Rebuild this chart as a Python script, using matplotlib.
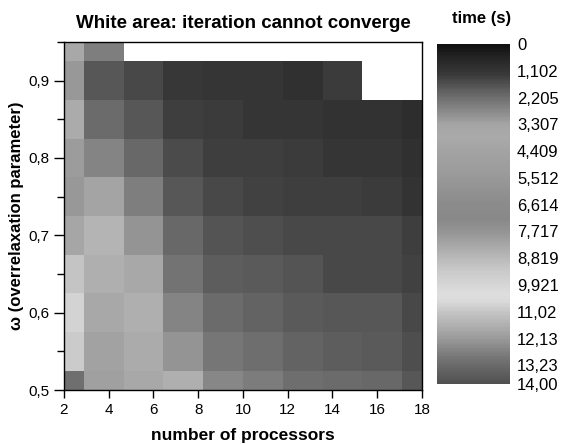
import numpy as np
import matplotlib
matplotlib.use("Agg")
import matplotlib.pyplot as plt
from matplotlib.colors import LinearSegmentedColormap, Normalize
from matplotlib.ticker import FuncFormatter, MultipleLocator

plt.rcParams['font.family'] = ['Liberation Sans', 'DejaVu Sans']

# processors (matrix columns) and omega (matrix rows)
processors = np.linspace(2, 18, 10)
omega = np.array([0.50, 0.55, 0.60, 0.65, 0.70, 0.75, 0.80, 0.85, 0.90, 0.95])

nan = np.nan
# time in seconds, one row per omega value (bottom row first), nan = no convergence
t_050 = [13.1, 8.08, 8.30, 8.53, 2.72, 2.48, 2.24, 2.16, 2.08, 1.78]
t_055 = [10.9, 8.14, 8.42, 5.90, 2.40, 2.20, 2.00, 1.89, 1.85, 1.60]
t_060 = [10.77, 8.30, 8.53, 2.63, 2.16, 2.00, 1.82, 1.75, 1.75, 1.53]
t_065 = [9.17, 8.53, 8.30, 2.32, 1.89, 1.82, 1.73, 1.53, 1.53, 1.42]
t_070 = [8.25, 8.66, 5.90, 2.08, 1.73, 1.64, 1.53, 1.49, 1.49, 1.35]
t_075 = [7.86, 8.19, 2.56, 1.78, 1.53, 1.42, 1.35, 1.35, 1.27, 1.07]
t_080 = [7.96, 2.63, 2.12, 1.56, 1.35, 1.35, 1.27, 1.10, 1.10, 0.93]
t_085 = [8.42, 2.16, 1.78, 1.35, 1.27, 1.10, 1.10, 1.00, 1.00, 0.87]
t_090 = [7.86, 1.78, 1.49, 1.20, 1.10, 1.10, 0.93, 1.27, nan, nan]
t_095 = [8.30, 2.56, nan, nan, nan, nan, nan, nan, nan, nan]

times = np.array([t_050, t_055, t_060, t_065, t_070, t_075, t_080, t_085, t_090, t_095])

# colour bar labels as printed
cb_ticks = [0, 1.102, 2.205, 3.307, 4.409, 5.512, 6.614, 7.717, 8.819, 9.921,
            11.02, 12.13, 13.23, 14.00]
cb_labels = ['0', '1,102', '2,205', '3,307', '4,409', '5,512', '6,614', '7,717',
             '8,819', '9,921', '11,02', '12,13', '13,23', '14,00']

# grey levels of the colour scale (time value, grey 0-255)
scale_t = [0, 0.5, 1.2, 2.0, 2.6, 3.3, 3.8, 4.5, 5.3, 6.5, 7.2, 7.8, 8.5, 9.3,
           10.3, 10.6, 11.1, 12.0, 13.0, 14.0]
scale_g = [16, 35, 56, 100, 130, 165, 170, 162, 155, 140, 136, 150, 175, 200,
           222, 218, 195, 160, 115, 80]

cmap = LinearSegmentedColormap.from_list(
    'timegrey', [(t / 14.0, (g / 255, g / 255, g / 255)) for t, g in zip(scale_t, scale_g)])
cmap.set_bad('white')
norm = Normalize(0, 14)

fig = plt.figure(figsize=(5.62, 4.44), dpi=100)
ax = fig.add_axes([64 / 562, 1 - 390 / 444, 358 / 562, 348 / 444])

dx = processors[1] - processors[0]
dy = omega[1] - omega[0]
xe = np.append(processors - dx / 2, processors[-1] + dx / 2)
ye = np.append(omega - dy / 2, omega[-1] + dy / 2)
mesh = ax.pcolormesh(xe, ye, np.ma.masked_invalid(times), cmap=cmap, norm=norm)

ax.set_xlim(2, 18)
ax.set_ylim(0.5, 0.95)
ax.xaxis.set_major_locator(MultipleLocator(2))
ax.yaxis.set_major_locator(MultipleLocator(0.1))
ax.yaxis.set_minor_locator(MultipleLocator(0.05))
ax.yaxis.set_major_formatter(FuncFormatter(lambda v, p: ('%.1f' % v).replace('.', ',')))
ax.tick_params(axis='both', which='major', labelsize=11, width=1)
ax.tick_params(axis='x', which='major', length=6)
ax.tick_params(axis='y', which='major', length=7)
ax.tick_params(axis='y', which='minor', length=5, width=1)
for s in ax.spines.values():
    s.set_linewidth(1)

ax.set_xlabel('number of processors', fontsize=12.5, fontweight='bold', labelpad=8)
ax.set_ylabel('ω (overrelaxation parameter)', fontsize=12, fontweight='bold', labelpad=3)
ax.set_title('White area: iteration cannot converge', fontsize=13.5, fontweight='bold', pad=10)

cax = fig.add_axes([437 / 562, 1 - 384 / 444, 73 / 562, 340 / 444])
cb = fig.colorbar(mesh, cax=cax)
cb.outline.set_visible(False)
cb.set_ticks(cb_ticks)
cb.set_ticklabels(cb_labels)
cax.invert_yaxis()
cax.tick_params(length=0, labelsize=12, pad=5)
fig.text(482 / 562, 1 - 19 / 444, 'time (s)', fontsize=12, fontweight='bold',
         ha='center', va='center')

fig.savefig('out.png', dpi=100)
